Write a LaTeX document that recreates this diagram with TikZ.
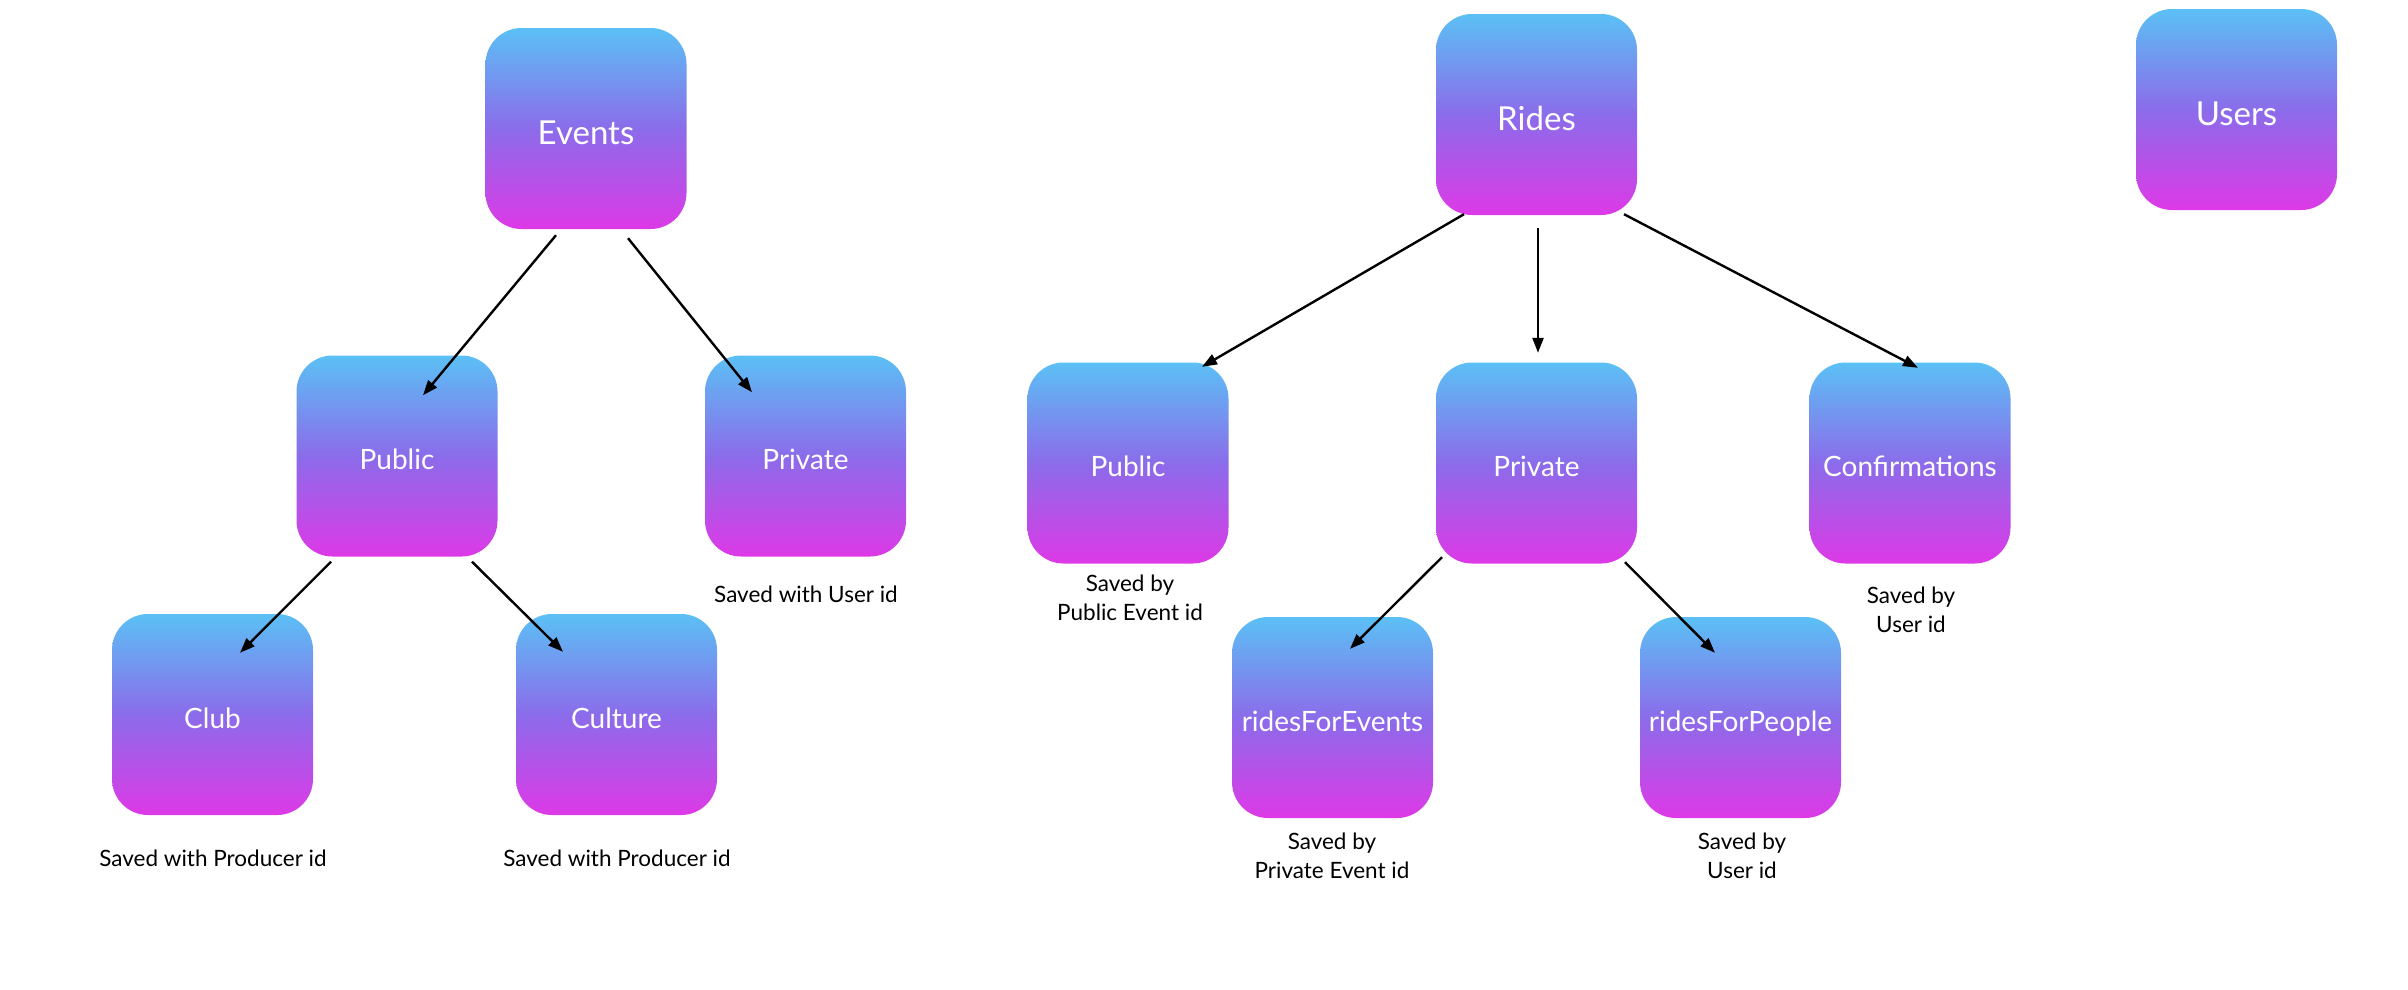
\documentclass[tikz,border=0pt]{standalone}
\usepackage{fontspec}
\setmainfont{Lato}
\usetikzlibrary{arrows.meta,calc}
\definecolor{gtop}{RGB}{91,192,245}
\definecolor{gmid}{RGB}{139,108,234}
\definecolor{gbot}{RGB}{221,57,230}
\tikzset{
  box/.style={rectangle, rounded corners=36pt, minimum width=201pt, minimum height=201pt,
    inner sep=0pt, top color=gtop, bottom color=gbot, middle color=gmid, text=white,
    font=\fontsize{28}{34}\selectfont, text height=27pt, text depth=0pt},
  bigbox/.style={box, font=\fontsize{33}{40}\selectfont, text height=31pt},
  conn/.style={line width=2.4pt, -{Triangle[length=15pt,width=11pt]}},
  note/.style={align=center, inner sep=0pt, font=\fontsize{22.5}{29}\selectfont}
}
\begin{document}
\begin{tikzpicture}[x=1pt,y=-1pt]
\useasboundingbox (0,0) rectangle (2408,989);
% boxes
\node[bigbox] (events) at (586,128.5) {Events};
\node[box] (epub) at (397,456) {Public};
\node[box] (epriv) at (805.5,456) {Private};
\node[box] (club) at (212.5,714.5) {Club};
\node[box] (culture) at (616.5,714.5) {Culture};
\node[bigbox] (rides) at (1536.5,114.5) {Rides};
\node[bigbox] (users) at (2236.5,109.5) {Users};
\node[box] (rpub) at (1128,463) {Public};
\node[box] (rpriv) at (1536.5,463) {Private};
\node[box] (conf) at (1910,463) {Confirmations};
\node[box] (rfe) at (1332.5,717.5) {ridesForEvents};
\node[box] (rfp) at (1740.5,717.5) {ridesForPeople};
% notes
\node[note] (n1) at (806,594) {Saved with User id};
\node[note] (n2) at (213,858) {Saved with Producer id};
\node[note] (n3) at (617,858) {Saved with Producer id};
\node[note] (n4) at (1130,598) {Saved by\\Public Event id};
\node[note] (n5) at (1911,610) {Saved by\\User id};
\node[note] (n6) at (1332,856) {Saved by\\Private Event id};
\node[note] (n7) at (1742,856) {Saved by\\User id};
% connectors
\draw[conn] ($(events.south)+(-30,6)$) -- ($(epub.north)+(26,40)$);
\draw[conn] ($(events.south)+(42,9)$) -- ($(epriv.north)+(-53.5,37)$);
\draw[conn] ($(epub.south)+(-66,5)$) -- ($(club.north)+(27.5,39)$);
\draw[conn] ($(epub.south)+(75,5)$) -- ($(culture.north)+(-53.5,38)$);
\draw[conn] ($(rides.south)+(-72.5,-1)$) -- ($(rpub.north)+(74,4.5)$);
\draw[conn] ($(rides.south)+(1.5,13)$) -- ($(rpriv.north)+(1.5,-9.5)$);
\draw[conn] ($(rides.south)+(87.5,-1)$) -- ($(conf.north)+(8,5.5)$);
\draw[conn] ($(rpriv.south)+(-94.5,-6.5)$) -- ($(rfe.north)+(17.5,32)$);
\draw[conn] ($(rpriv.south)+(88.5,-1.5)$) -- ($(rfp.north)+(-25.5,36)$);
\end{tikzpicture}
\end{document}
